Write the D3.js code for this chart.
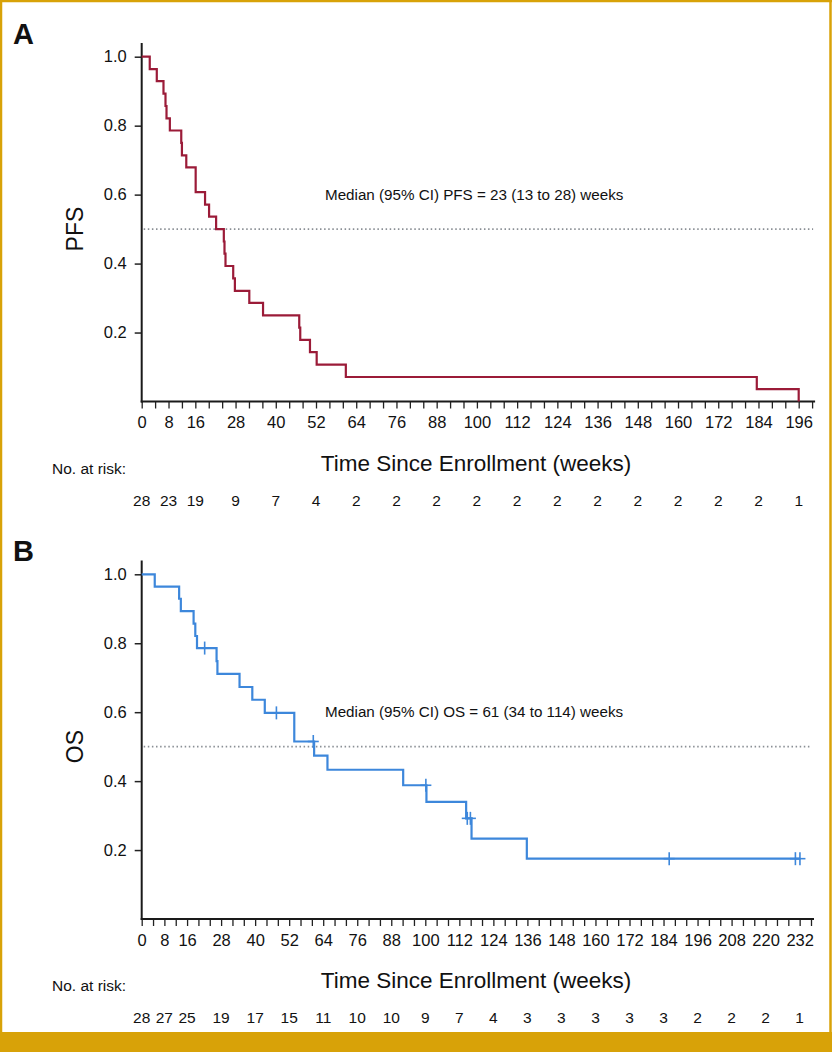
<!DOCTYPE html>
<html>
<head>
<meta charset="utf-8">
<script src="https://cdn.jsdelivr.net/npm/d3@7"></script>
<style>
  body { margin: 0; background: #fff; }
  svg text { font-family: "Liberation Sans", Arial, Helvetica, sans-serif; fill: #111; }
</style>
</head>
<body>
<svg id="chart" width="832" height="1052"></svg>
<script>
// Kaplan-Meier steps (time in weeks, survival after the step)
const pfsTime = [0, 2.4, 4.5, 6.5, 7.1, 7.4, 8.4, 11.8, 12.0, 13.3, 16.1, 18.9, 20.1, 22.2, 24.5, 24.7, 25.0, 27.3, 27.8, 32.1, 36.2, 47.0, 47.3, 50.2, 52.2, 60.9, 183.5, 196.0]
const pfsSurv = [1.0, 0.964, 0.929, 0.893, 0.857, 0.821, 0.786, 0.750, 0.714, 0.679, 0.607, 0.571, 0.536, 0.500, 0.464, 0.429, 0.393, 0.357, 0.321, 0.286, 0.250, 0.214, 0.179, 0.143, 0.107, 0.071, 0.036, 0.0]
const pfsEnd = 196.0
const pfsCensor = []

const osTime = [0, 4.6, 13.2, 13.8, 18.3, 18.9, 19.5, 26.4, 26.7, 34.5, 39.0, 43.4, 53.8, 60.8, 65.5, 92.2, 100.4, 114.4, 116.3, 135.8]
const osSurv = [1.0, 0.964, 0.929, 0.893, 0.857, 0.821, 0.786, 0.748, 0.711, 0.673, 0.636, 0.598, 0.515, 0.474, 0.433, 0.388, 0.340, 0.292, 0.233, 0.175]
const osEnd = 232.1
const osCensor = [22.2, 47.5, 60.5, 100.2, 114.8, 115.9, 186.0, 230.5, 232.1]

// x axis ticks and labels, number at risk under each label
const pfsLabels = [0, 8, 16, 28, 40, 52, 64, 76, 88, 100, 112, 124, 136, 148, 160, 172, 184, 196]
const pfsAtRisk = [28, 23, 19, 9, 7, 4, 2, 2, 2, 2, 2, 2, 2, 2, 2, 2, 2, 1]
const osLabels = [0, 8, 16, 28, 40, 52, 64, 76, 88, 100, 112, 124, 136, 148, 160, 172, 184, 196, 208, 220, 232]
const osAtRisk = [28, 27, 25, 19, 17, 15, 11, 10, 10, 9, 7, 4, 3, 3, 3, 3, 3, 2, 2, 2, 1]
const yTicks = [0.2, 0.4, 0.6, 0.8, 1.0]

const svg = d3.select("#chart")
const gold = "#D8A208"

// frame round the figure
svg.append("rect").attr("x", 0).attr("y", 0).attr("width", 832).attr("height", 1052).attr("fill", "#fff")
svg.append("line").attr("x1", 0).attr("x2", 832).attr("y1", 1).attr("y2", 1).attr("stroke", gold).attr("stroke-width", 2.5)
svg.append("line").attr("x1", 1).attr("x2", 1).attr("y1", 0).attr("y2", 1052).attr("stroke", gold).attr("stroke-width", 2.5)
svg.append("line").attr("x1", 830.5).attr("x2", 830.5).attr("y1", 0).attr("y2", 1052).attr("stroke", gold).attr("stroke-width", 2.5)
svg.append("rect").attr("x", 0).attr("y", 1032).attr("width", 832).attr("height", 20).attr("fill", gold)

// panels
const panels = [
  { letter: "A", letterY: 44, ylab: "PFS", top: 56.7, base: 401.5, xMax: 200, xRight: 812.1,
    time: pfsTime, surv: pfsSurv, end: pfsEnd, censor: pfsCensor, color: "#9B1B38",
    labels: pfsLabels, atRisk: pfsAtRisk,
    median: "Median (95% CI) PFS = 23 (13 to 28) weeks", medianY: 200 },
  { letter: "B", letterY: 561, ylab: "OS", top: 574.3, base: 919, xMax: 236, xRight: 811,
    time: osTime, surv: osSurv, end: osEnd, censor: osCensor, color: "#3D87DB",
    labels: osLabels, atRisk: osAtRisk,
    median: "Median (95% CI) OS = 61 (34 to 114) weeks", medianY: 717 }
]

const left = 141.7

panels.forEach(p => {
  const x = d3.scaleLinear().domain([0, p.xMax]).range([left, p.xRight])
  const y = d3.scaleLinear().domain([0, 1]).range([p.base, p.top])
  const g = svg.append("g")

  // panel letter
  g.append("text").attr("x", 13).attr("y", p.letterY)
    .style("font-size", "29px").style("font-weight", "bold").text(p.letter)

  // y axis
  const yAxis = g.append("g").attr("transform", `translate(${left},0)`)
    .call(d3.axisLeft(y).tickValues(yTicks).tickFormat(d3.format(".1f")).tickSize(7).tickPadding(8).tickSizeOuter(0))
  yAxis.select(".domain").remove()
  yAxis.selectAll(".tick line").attr("stroke", "#222").attr("stroke-width", 1.5)
  yAxis.selectAll(".tick text").style("font-size", "16.5px").style("font-family", "Liberation Sans, Arial, sans-serif").attr("fill", "#111")

  // x axis, tick every 4 weeks, labels only on the listed weeks
  const xAxis = g.append("g").attr("transform", `translate(0,${p.base})`)
    .call(d3.axisBottom(x).tickValues(d3.range(0, p.xMax + 1, 4))
      .tickFormat(d => p.labels.includes(d) ? d : "").tickSize(7).tickPadding(8).tickSizeOuter(0))
  xAxis.select(".domain").remove()
  xAxis.selectAll(".tick line").attr("stroke", "#222").attr("stroke-width", 1.3)
  xAxis.selectAll(".tick text").style("font-size", "16.5px").style("font-family", "Liberation Sans, Arial, sans-serif").attr("fill", "#111")

  // axis lines
  g.append("line").attr("x1", left).attr("x2", left).attr("y1", p.base + 1).attr("y2", y(1.04))
    .attr("stroke", "#1a1a1a").attr("stroke-width", 2)
  g.append("line").attr("x1", left - 1).attr("x2", p.xRight + 3).attr("y1", p.base).attr("y2", p.base)
    .attr("stroke", "#1a1a1a").attr("stroke-width", 2)

  // y label
  g.append("text").attr("transform", `translate(83,${(p.top + p.base) / 2}) rotate(-90)`)
    .attr("text-anchor", "middle").style("font-size", "23px").text(p.ylab)

  // median reference line at 0.5
  g.append("line").attr("x1", left + 2).attr("x2", p.xRight + 1).attr("y1", y(0.5)).attr("y2", y(0.5))
    .attr("stroke", "#8a8f95").attr("stroke-width", 1.6).attr("stroke-dasharray", "1.5 2.6")

  g.append("text").attr("x", 325).attr("y", p.medianY).style("font-size", "15.2px").text(p.median)

  // step curve
  const pts = p.time.map((t, i) => [t, p.surv[i]])
  pts.push([p.end, p.surv[p.surv.length - 1]])
  const line = d3.line().x(d => x(d[0])).y(d => y(d[1])).curve(d3.curveStepAfter)
  g.append("path").datum(pts).attr("d", line).attr("fill", "none")
    .attr("stroke", p.color).attr("stroke-width", 2.2).attr("stroke-linejoin", "miter")

  // censor marks
  const level = t => p.surv[d3.bisectRight(p.time, t) - 1]
  const marks = g.append("g").attr("stroke", p.color).attr("stroke-width", 1.6)
  p.censor.forEach(t => {
    marks.append("line").attr("x1", x(t)).attr("x2", x(t)).attr("y1", y(level(t)) - 6.5).attr("y2", y(level(t)) + 6.5)
    marks.append("line").attr("x1", x(t) - 5.5).attr("x2", x(t) + 5.5).attr("y1", y(level(t))).attr("y2", y(level(t)))
  })

  // axis title and number at risk
  g.append("text").attr("x", 476).attr("y", p.base + 69).attr("text-anchor", "middle")
    .style("font-size", "22.5px").text("Time Since Enrollment (weeks)")
  g.append("text").attr("x", 52).attr("y", p.base + 72).style("font-size", "15.5px").text("No. at risk:")
  g.selectAll(".risk").data(p.labels).enter().append("text")
    .attr("x", d => x(d)).attr("y", p.base + 104).attr("text-anchor", "middle")
    .style("font-size", "15.5px").text((d, i) => p.atRisk[i])
})
</script>
</body>
</html>
